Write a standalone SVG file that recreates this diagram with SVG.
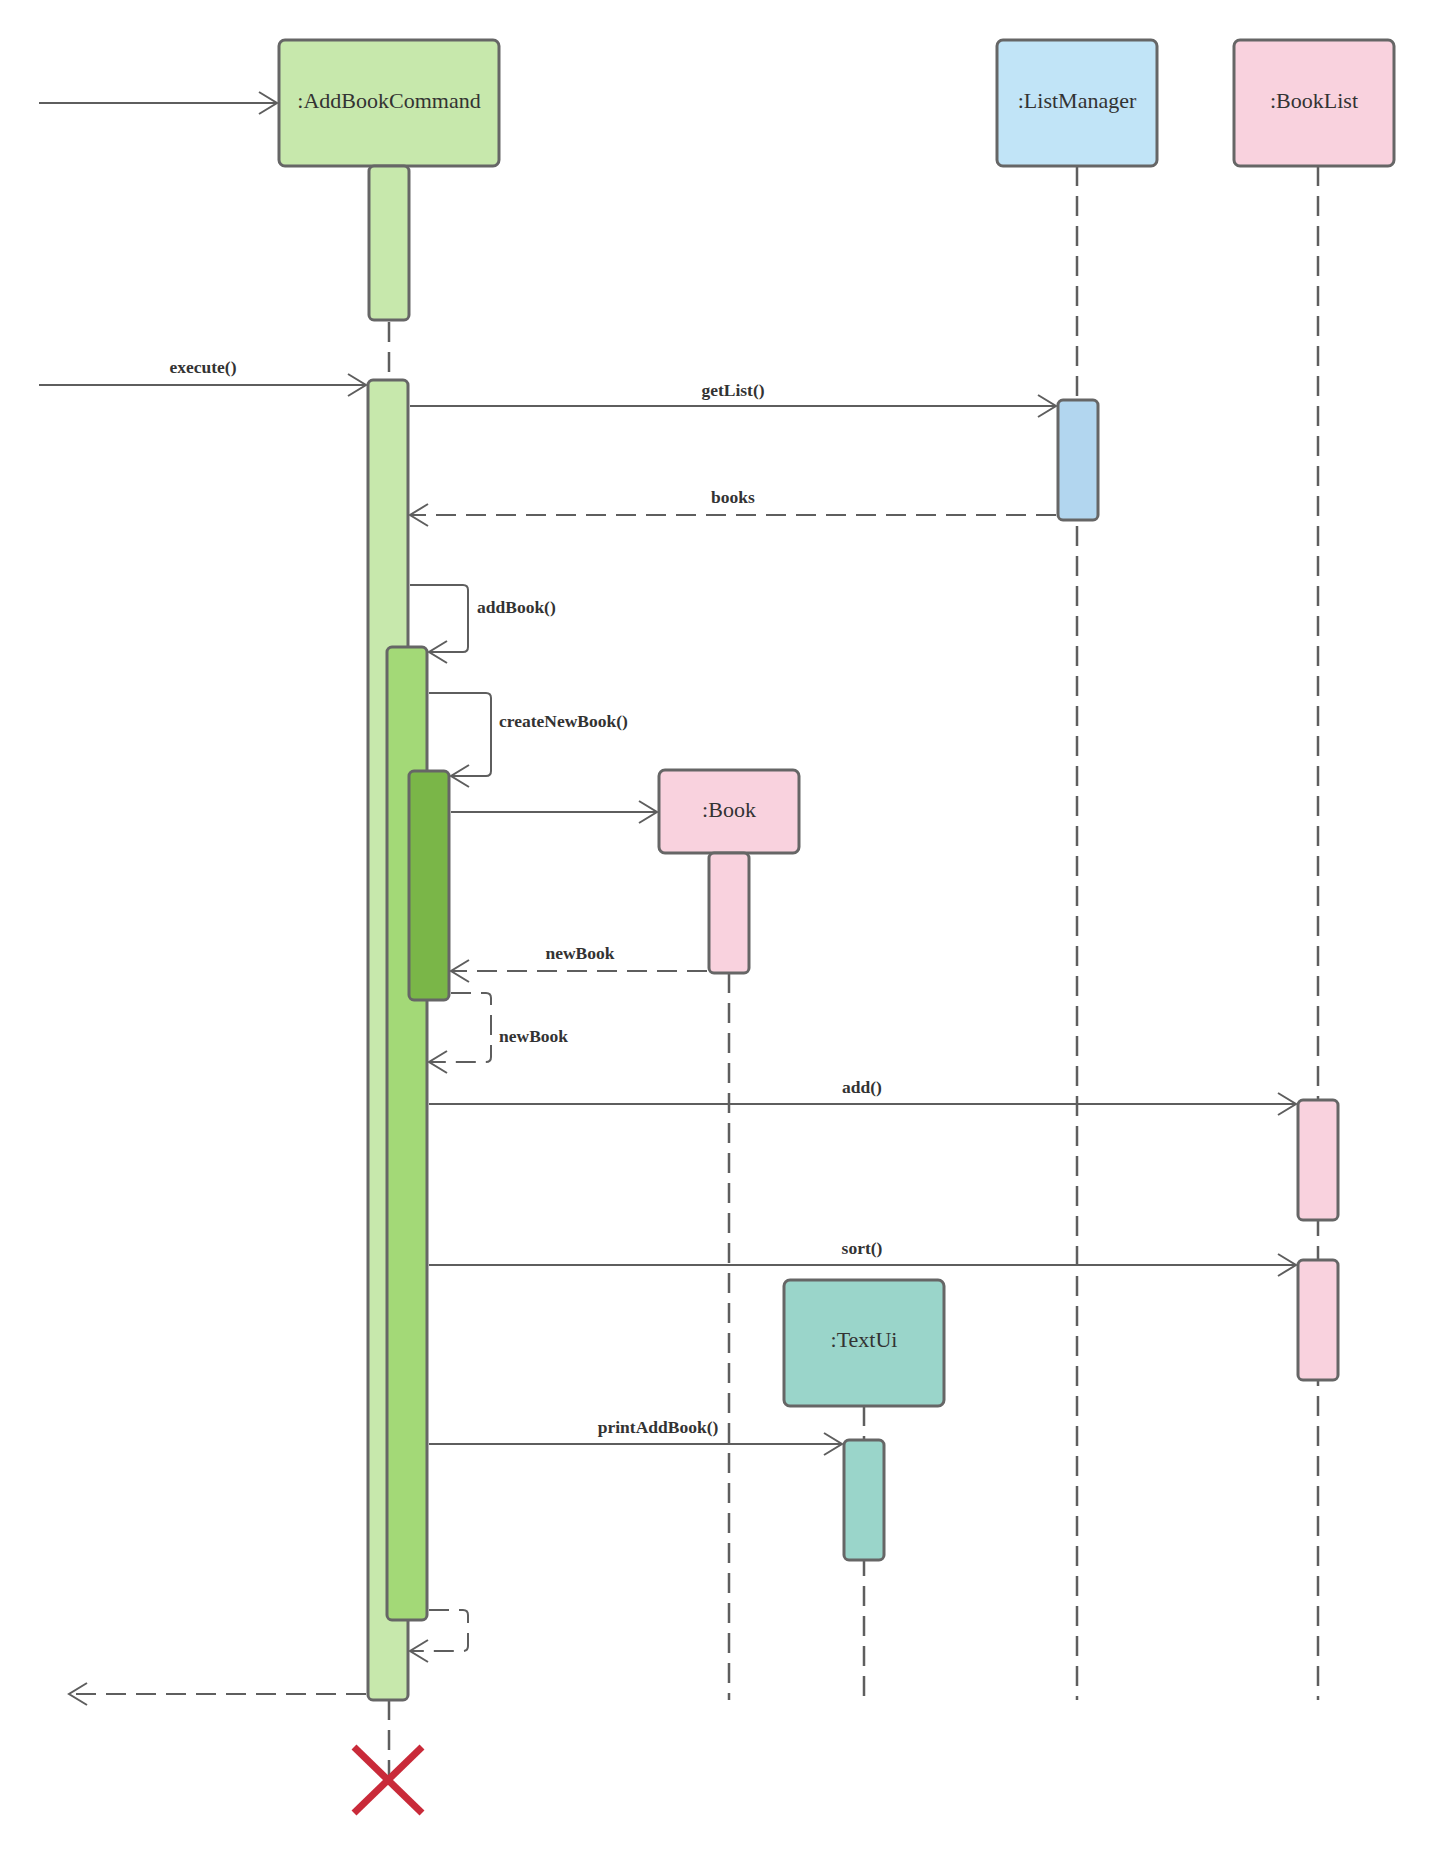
<svg xmlns="http://www.w3.org/2000/svg" width="1435" height="1860" viewBox="0 0 1435 1860">
<style>
.node{stroke:#666;stroke-width:3}
.act{stroke:#666;stroke-width:3}
.life{stroke:#5e5e5e;stroke-width:2.5;stroke-dasharray:20 10;fill:none}
.msg{stroke:#5e5e5e;stroke-width:2;fill:none}
.ret{stroke:#5e5e5e;stroke-width:2;fill:none;stroke-dasharray:20 10}
.nlabel{font-family:"Liberation Serif",serif;font-size:22px;fill:#333;text-anchor:middle;dominant-baseline:central}
.mlabel{font-family:"Liberation Serif",serif;font-size:17.5px;font-weight:bold;fill:#333}
</style>
<defs>
<marker id="open" markerUnits="userSpaceOnUse" viewBox="-22 -14 26 28" refX="0" refY="0" markerWidth="26" markerHeight="28" orient="auto">
<path d="M-18,-11 L0,0 L-18,11" fill="none" stroke="#5e5e5e" stroke-width="2" stroke-dasharray="none"/>
</marker>
</defs>
<rect width="1435" height="1860" fill="#fff"/>

<g id="lifelines">
<line class="life" x1="389" y1="322" x2="389" y2="380"/>
<line class="life" x1="389" y1="1700" x2="389" y2="1780"/>
<line class="life" x1="1077" y1="166" x2="1077" y2="1700"/>
<line class="life" x1="1318" y1="166" x2="1318" y2="1700"/>
<line class="life" x1="729" y1="973" x2="729" y2="1700"/>
<line class="life" x1="864" y1="1406" x2="864" y2="1700"/>
</g>

<g id="AddBookCommand">
<rect class="node" x="279" y="40" width="220" height="126" rx="6" fill="#c7e8ac"/>
<text class="nlabel" x="389" y="100">:AddBookCommand</text>
</g>
<g id="ListManager">
<rect class="node" x="997" y="40" width="160" height="126" rx="6" fill="#c1e4f7"/>
<text class="nlabel" x="1077" y="100">:ListManager</text>
</g>
<g id="BookList">
<rect class="node" x="1234" y="40" width="160" height="126" rx="6" fill="#f9d2de"/>
<text class="nlabel" x="1314" y="100">:BookList</text>
</g>
<g id="Book">
<rect class="node" x="659" y="770" width="140" height="83" rx="6" fill="#f9d2de"/>
<text class="nlabel" x="729" y="809">:Book</text>
</g>
<g id="TextUi">
<rect class="node" x="784" y="1280" width="160" height="126" rx="6" fill="#9ad5ca"/>
<text class="nlabel" x="864" y="1339">:TextUi</text>
</g>

<g id="activations">
<rect class="act" x="369" y="166" width="40" height="154" rx="5" fill="#c7e8ac"/>
<rect class="act" x="368" y="380" width="40" height="1320" rx="5" fill="#c7e8ac"/>
<rect class="act" x="387" y="647" width="40" height="973" rx="5" fill="#a3d977"/>
<rect class="act" x="409" y="771" width="40" height="229" rx="5" fill="#7ab648"/>
<rect class="act" x="1058" y="400" width="40" height="120" rx="5" fill="#b2d6ef"/>
<rect class="act" x="1298" y="1100" width="40" height="120" rx="5" fill="#f9d2de"/>
<rect class="act" x="1298" y="1260" width="40" height="120" rx="5" fill="#f9d2de"/>
<rect class="act" x="709" y="853" width="40" height="120" rx="5" fill="#f9d2de"/>
<rect class="act" x="844" y="1440" width="40" height="120" rx="5" fill="#9ad5ca"/>
</g>

<g id="connectors">
<line class="msg" x1="39" y1="103" x2="277" y2="103" marker-end="url(#open)"/>
<line class="msg" x1="39" y1="385" x2="366" y2="385" marker-end="url(#open)"/>
<line class="msg" x1="410" y1="406" x2="1056" y2="406" marker-end="url(#open)"/>
<line class="ret" x1="1056" y1="515" x2="410" y2="515" marker-end="url(#open)"/>
<path class="msg" d="M410,585 H463 Q468,585 468,590 V647 Q468,652 463,652 H429" marker-end="url(#open)"/>
<path class="msg" d="M429,693 H486 Q491,693 491,698 V771 Q491,776 486,776 H451" marker-end="url(#open)"/>
<line class="msg" x1="451" y1="812" x2="657" y2="812" marker-end="url(#open)"/>
<line class="ret" x1="707" y1="971" x2="451" y2="971" marker-end="url(#open)"/>
<path class="ret" d="M451,993 H486 Q491,993 491,998 V1057 Q491,1062 486,1062 H429" marker-end="url(#open)"/>
<line class="msg" x1="429" y1="1104" x2="1296" y2="1104" marker-end="url(#open)"/>
<line class="msg" x1="429" y1="1265" x2="1296" y2="1265" marker-end="url(#open)"/>
<line class="msg" x1="429" y1="1444" x2="842" y2="1444" marker-end="url(#open)"/>
<path class="ret" d="M429,1610 H463 Q468,1610 468,1615 V1646 Q468,1651 463,1651 H410" marker-end="url(#open)"/>
<line class="ret" x1="366" y1="1694" x2="69" y2="1694" marker-end="url(#open)"/>
</g>

<g id="labels">
<text class="mlabel" x="203" y="373" text-anchor="middle">execute()</text>
<text class="mlabel" x="733" y="396" text-anchor="middle">getList()</text>
<text class="mlabel" x="733" y="503" text-anchor="middle">books</text>
<text class="mlabel" x="477" y="613">addBook()</text>
<text class="mlabel" x="499" y="727">createNewBook()</text>
<text class="mlabel" x="580" y="959" text-anchor="middle">newBook</text>
<text class="mlabel" x="499" y="1042">newBook</text>
<text class="mlabel" x="862" y="1093" text-anchor="middle">add()</text>
<text class="mlabel" x="862" y="1254" text-anchor="middle">sort()</text>
<text class="mlabel" x="658" y="1433" text-anchor="middle">printAddBook()</text>
</g>

<g id="destroy">
<line x1="354" y1="1747" x2="422" y2="1813" stroke="#c92a39" stroke-width="7"/>
<line x1="422" y1="1747" x2="354" y2="1813" stroke="#c92a39" stroke-width="7"/>
</g>
</svg>
